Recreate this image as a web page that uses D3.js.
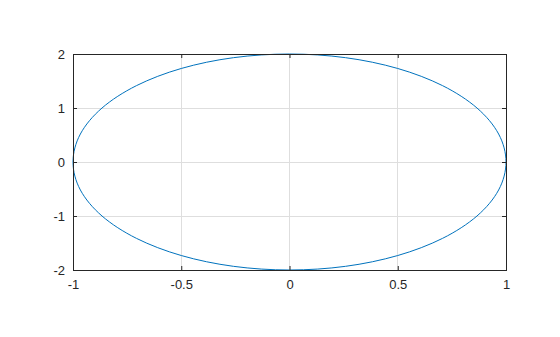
<!DOCTYPE html>
<html>
<head>
<meta charset="utf-8">
<script src="https://cdn.jsdelivr.net/npm/d3@7"></script>
<style>
  body { margin: 0; background: #fff; }
  text { font-family: "Liberation Sans", Arial, sans-serif; font-size: 13px; fill: #262626; }
</style>
</head>
<body>
<div id="chart"></div>
<script>
// points, every 15 degrees round the ellipse
const xs = [1, 0.966, 0.866, 0.707, 0.5, 0.259, 0, -0.259, -0.5, -0.707, -0.866, -0.966,
            -1, -0.966, -0.866, -0.707, -0.5, -0.259, 0, 0.259, 0.5, 0.707, 0.866, 0.966];
const ys = [0, 0.518, 1, 1.414, 1.732, 1.932, 2, 1.932, 1.732, 1.414, 1, 0.518,
            0, -0.518, -1, -1.414, -1.732, -1.932, -2, -1.932, -1.732, -1.414, -1, -0.518];
const xTicks = [-1, -0.5, 0, 0.5, 1];
const yTicks = [-2, -1, 0, 1, 2];

var width = 560, height = 337;
var margin = { top: 54, right: 54, bottom: 67, left: 73 };

var svg = d3.select("#chart").append("svg")
    .attr("width", width)
    .attr("height", height);

var x = d3.scaleLinear().domain([-1, 1]).range([margin.left, width - margin.right]);
var y = d3.scaleLinear().domain([-2, 2]).range([height - margin.bottom, margin.top]);

// grid
svg.append("g").selectAll("line")
    .data(xTicks).enter().append("line")
    .attr("x1", d => x(d)).attr("x2", d => x(d))
    .attr("y1", y(-2)).attr("y2", y(2))
    .attr("stroke", "#dedede").attr("stroke-width", 1)
    .attr("shape-rendering", "crispEdges");
svg.append("g").selectAll("line")
    .data(yTicks).enter().append("line")
    .attr("x1", x(-1)).attr("x2", x(1))
    .attr("y1", d => y(d)).attr("y2", d => y(d))
    .attr("stroke", "#dedede").attr("stroke-width", 1)
    .attr("shape-rendering", "crispEdges");

// curve
var pts = xs.map((v, i) => [v, ys[i]]);
svg.append("path")
    .datum(pts)
    .attr("fill", "none")
    .attr("stroke", "#0072bd")
    .attr("stroke-width", 1)
    .attr("d", d3.line().x(d => x(d[0])).y(d => y(d[1])).curve(d3.curveCatmullRomClosed.alpha(0)));

// axes with inward ticks, plain hyphen for minus
var fmt = d => String(d);
var xAxis = d3.axisBottom(x).tickValues(xTicks).tickSize(-4).tickPadding(10).tickFormat(fmt);
var yAxis = d3.axisLeft(y).tickValues(yTicks).tickSize(-4).tickPadding(8).tickFormat(fmt);

var gx = svg.append("g").attr("transform", "translate(0," + y(-2) + ")").call(xAxis);
var gy = svg.append("g").attr("transform", "translate(" + x(-1) + ",0)").call(yAxis);
var gx2 = svg.append("g").attr("transform", "translate(0," + y(2) + ")")
    .call(d3.axisTop(x).tickValues(xTicks).tickSize(-4).tickFormat(""));
var gy2 = svg.append("g").attr("transform", "translate(" + x(1) + ",0)")
    .call(d3.axisRight(y).tickValues(yTicks).tickSize(-4).tickFormat(""));

[gx, gy, gx2, gy2].forEach(g => {
    g.select(".domain").attr("stroke", "#262626").attr("shape-rendering", "crispEdges");
    g.selectAll(".tick line").attr("stroke", "#262626");
    g.selectAll("text").attr("font-size", 13).attr("font-family", "Liberation Sans, Arial, sans-serif").attr("fill", "#262626");
});
</script>
</body>
</html>
